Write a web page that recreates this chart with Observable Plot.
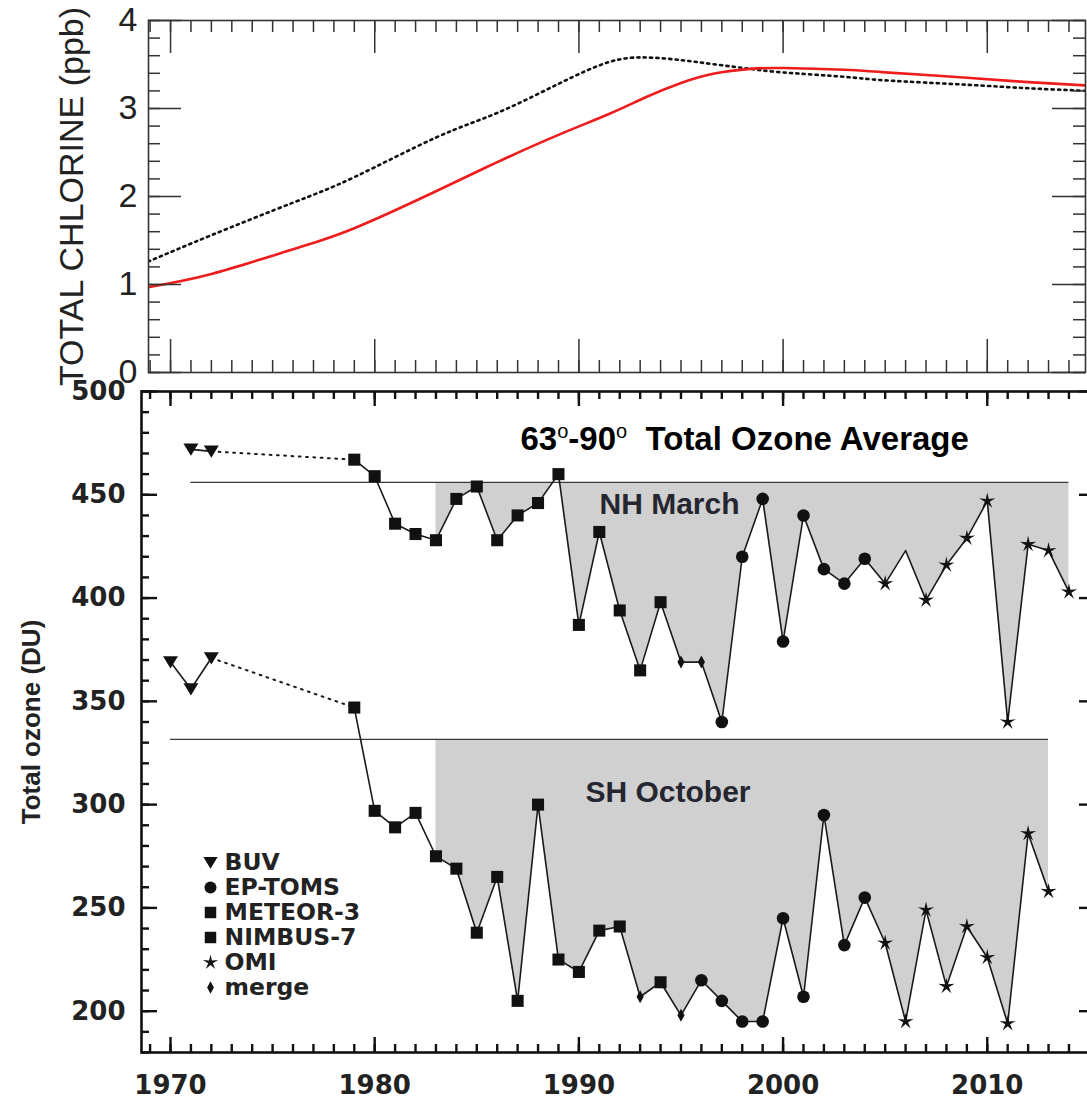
<!DOCTYPE html>
<html><head><meta charset="utf-8">
<script src="https://cdn.jsdelivr.net/npm/d3@7"></script>
<script src="https://cdn.jsdelivr.net/npm/@observablehq/plot@0.6"></script>
<style>
html,body{margin:0;padding:0;background:#fff;overflow:hidden;}
#wrap{width:1087px;height:1099px;overflow:hidden;position:relative;}
#wrap svg{display:block;max-width:none !important;}
</style></head><body><div id="wrap"></div>
<script>
// ---------- Top panel: total chlorine (ppb) ----------
const chlorineYears = [1968.9, 1972, 1976, 1979, 1983, 1986, 1989, 1991.5, 1993.3, 1995, 1996.7, 1998.4, 2000, 2003, 2005, 2009, 2012, 2015];
const chlorineRed   = [0.97, 1.12, 1.40, 1.64, 2.06, 2.39, 2.70, 2.94, 3.13, 3.29, 3.40, 3.45, 3.46, 3.44, 3.41, 3.35, 3.30, 3.26];
const chlorineBlack = [1.26, 1.56, 1.93, 2.22, 2.67, 2.95, 3.28, 3.53, 3.58, 3.55, 3.50, 3.45, 3.41, 3.36, 3.32, 3.27, 3.23, 3.20];
const chlorineTicks = [0, 1, 2, 3, 4];

// ---------- Bottom panel: 63-90 total ozone (DU) ----------
const nhYears = [1971,1972,1979,1980,1981,1982,1983,1984,1985,1986,1987,1988,1989,1990,1991,1992,1993,1994,1995,1996,1997,1998,1999,2000,2001,2002,2003,2004,2005,2006,2007,2008,2009,2010,2011,2012,2013,2014];
const nhOzone = [472,471,467,459,436,431,428,448,454,428,440,446,460,387,432,394,365,398,369,369,340,420,448,379,440,414,407,419,407,423,399,416,429,447,340,426,423,403];
const nhInstrument = ["BUV","BUV",
  "NIMBUS-7","NIMBUS-7","NIMBUS-7","NIMBUS-7","NIMBUS-7","NIMBUS-7","NIMBUS-7","NIMBUS-7","NIMBUS-7","NIMBUS-7","NIMBUS-7","NIMBUS-7","NIMBUS-7","NIMBUS-7",
  "METEOR-3","METEOR-3","merge","merge",
  "EP-TOMS","EP-TOMS","EP-TOMS","EP-TOMS","EP-TOMS","EP-TOMS","EP-TOMS","EP-TOMS",
  "OMI","none","OMI","OMI","OMI","OMI","OMI","OMI","OMI","OMI"];
const nhRef = 456;

const shYears = [1970,1971,1972,1979,1980,1981,1982,1983,1984,1985,1986,1987,1988,1989,1990,1991,1992,1993,1994,1995,1996,1997,1998,1999,2000,2001,2002,2003,2004,2005,2006,2007,2008,2009,2010,2011,2012,2013];
const shOzone = [369,356,371,347,297,289,296,275,269,238,265,205,300,225,219,239,241,207,214,198,215,205,195,195,245,207,295,232,255,233,195,249,212,241,226,194,286,258];
const shInstrument = ["BUV","BUV","BUV",
  "NIMBUS-7","NIMBUS-7","NIMBUS-7","NIMBUS-7","NIMBUS-7","NIMBUS-7","NIMBUS-7","NIMBUS-7","NIMBUS-7","NIMBUS-7","NIMBUS-7","NIMBUS-7","NIMBUS-7","NIMBUS-7",
  "merge","METEOR-3","merge",
  "EP-TOMS","EP-TOMS","EP-TOMS","EP-TOMS","EP-TOMS","EP-TOMS","EP-TOMS","EP-TOMS","EP-TOMS",
  "OMI","OMI","OMI","OMI","OMI","OMI","OMI","OMI","OMI"];
const shRef = 331.6;

const ozoneTicks = [200, 250, 300, 350, 400, 450, 500];
const yearTicks = [1970, 1980, 1990, 2000, 2010];
const legendLabels = ["BUV", "EP-TOMS", "METEOR-3", "NIMBUS-7", "OMI", "merge"];
const titleText = "63o-90o Total Ozone Average";
const nhLabel = "NH March";
const shLabel = "SH October";
const ozoneAxisLabel = "Total ozone (DU)";
const chlorineAxisLabel = "TOTAL CHLORINE (ppb)";

// ---------- symbols ----------
const symTri = {draw(ctx, size) { const r = Math.sqrt(size / Math.PI);
  ctx.moveTo(-1.1 * r, -0.85 * r); ctx.lineTo(1.1 * r, -0.85 * r); ctx.lineTo(0, 0.95 * r); ctx.closePath(); }};
const symDiamond = {draw(ctx, size) { const r = Math.sqrt(size / Math.PI);
  ctx.moveTo(0, -r); ctx.lineTo(0.55 * r, 0); ctx.lineTo(0, r); ctx.lineTo(-0.55 * r, 0); ctx.closePath(); }};
const symStar = {draw(ctx, size) { const R = Math.sqrt(size / Math.PI), ri = 0.3 * R;
  for (let i = 0; i < 10; i++) { const a = -Math.PI / 2 + i * Math.PI / 5, rr = i % 2 ? ri : R;
    const px = rr * Math.cos(a), py = rr * Math.sin(a); if (i) ctx.lineTo(px, py); else ctx.moveTo(px, py); }
  ctx.closePath(); }};
const symbolFor = {"BUV": symTri, "EP-TOMS": d3.symbolCircle, "METEOR-3": d3.symbolSquare, "NIMBUS-7": d3.symbolSquare, "OMI": symStar, "merge": symDiamond};
const rFor = {"BUV": 6.8, "EP-TOMS": 6.3, "METEOR-3": 6.8, "NIMBUS-7": 6.8, "OMI": 8.5, "merge": 6.5};

const SANS = "'Liberation Sans', Arial, Helvetica, sans-serif";
const WIDE = "'DejaVu Sans', Verdana, sans-serif";

// ---------- top chart ----------
const chl = chlorineYears.map((year, i) => ({year, red: chlorineRed[i], black: chlorineBlack[i]}));
const T = {w: 1087, h: 385, l: 148, r: 2, t: 20, b: 13};
const tFW = T.w - T.l - T.r, tFH = T.h - T.t - T.b;
const tCol = "#333";
const topChart = Plot.plot({
  width: T.w, height: T.h, marginLeft: T.l, marginRight: T.r, marginTop: T.t, marginBottom: T.b,
  style: {fontFamily: SANS, background: "white", overflow: "visible"},
  x: {domain: [1968.92, 2014.81], axis: null},
  y: {domain: [0, 4], axis: null},
  marks: [
    Plot.line(chl, {x: "year", y: "black", curve: "natural", stroke: "#111", strokeWidth: 2.6, strokeDasharray: "2.2,4.2", clip: true}),
    Plot.line(chl, {x: "year", y: "red", curve: "natural", stroke: "#ee1c1c", strokeWidth: 2.6, clip: true}),
    Plot.tickX(d3.range(1969, 2015), {x: d => d, insetTop: tFH - 12, stroke: tCol, strokeWidth: 1.5}),
    Plot.tickX(d3.range(1969, 2015), {x: d => d, insetBottom: tFH - 12, stroke: tCol, strokeWidth: 1.5}),
    Plot.tickX(yearTicks, {x: d => d, insetTop: tFH - 33, stroke: tCol, strokeWidth: 1.5}),
    Plot.tickX(yearTicks, {x: d => d, insetBottom: tFH - 33, stroke: tCol, strokeWidth: 1.5}),
    Plot.tickY(d3.range(0, 4.01, 0.2), {y: d => d, insetRight: tFW - 12, stroke: tCol, strokeWidth: 1.5}),
    Plot.tickY(d3.range(0, 4.01, 0.2), {y: d => d, insetLeft: tFW - 12, stroke: tCol, strokeWidth: 1.5}),
    Plot.tickY(chlorineTicks, {y: d => d, insetRight: tFW - 33, stroke: tCol, strokeWidth: 1.5}),
    Plot.tickY(chlorineTicks, {y: d => d, insetLeft: tFW - 33, stroke: tCol, strokeWidth: 1.5}),
    Plot.frame({stroke: tCol, strokeWidth: 1.6}),
    Plot.axisY(chlorineTicks, {anchor: "left", tickSize: 0, tickPadding: 11, tickFormat: d => String(d), fontSize: 34, fontFamily: SANS, fill: "#222", label: null}),
    Plot.text([chlorineAxisLabel], {text: d => d, frameAnchor: "left", dx: -76, rotate: -90, fontSize: 34, fontFamily: SANS, fill: "#222", textAnchor: "middle"})
  ]
});

// ---------- bottom chart ----------
const nh = nhYears.map((year, i) => ({year, ozone: nhOzone[i], inst: nhInstrument[i]}));
const sh = shYears.map((year, i) => ({year, ozone: shOzone[i], inst: shInstrument[i]}));
const B = {w: 1096, h: 714, l: 141, r: 1, t: 6, b: 47};
const bFW = B.w - B.l - B.r, bFH = B.h - B.t - B.b;
const lineCol = "#1a1a1a";

function seriesMarks(rows, ref) {
  const first = rows[0].year, last = rows[rows.length - 1].year;
  const marks = [
    Plot.areaY(rows.filter(d => d.year >= 1983), {x: "year", y1: () => ref, y2: "ozone", fill: "#d0d0d0"}),
    Plot.ruleY([ref], {x1: () => first, x2: () => last, stroke: "#3a3a3a", strokeWidth: 1.3}),
    Plot.line(rows.filter(d => d.year <= 1972), {x: "year", y: "ozone", stroke: lineCol, strokeWidth: 1.6}),
    Plot.line(rows.filter(d => d.year === 1972 || d.year === 1979), {x: "year", y: "ozone", stroke: lineCol, strokeWidth: 2, strokeDasharray: "1.8,5.5"}),
    Plot.line(rows.filter(d => d.year >= 1979), {x: "year", y: "ozone", stroke: lineCol, strokeWidth: 1.6})
  ];
  for (const lab of legendLabels) {
    marks.push(Plot.dot(rows.filter(d => d.inst === lab), {x: "year", y: "ozone", symbol: symbolFor[lab], r: rFor[lab], fill: "#111"}));
  }
  return marks;
}

const legendMarks = legendLabels.flatMap((lab, i) => [
  Plot.dot([lab], {frameAnchor: "bottom-left", dx: 69, dy: -190 + 25 * i, symbol: symbolFor[lab], r: rFor[lab] * 0.95, fill: "#111"}),
  Plot.text([lab], {text: d => d, frameAnchor: "bottom-left", dx: 83, dy: -190 + 25 * i, textAnchor: "start", lineAnchor: "middle", fontSize: 23.5, fontWeight: "bold", fontFamily: WIDE, fill: "#222"})
]);

const bottomChart = Plot.plot({
  width: B.w, height: B.h, marginLeft: B.l, marginRight: B.r, marginTop: B.t, marginBottom: B.b,
  style: {fontFamily: WIDE, background: "white", overflow: "visible"},
  x: {domain: [1968.58, 2015.3], axis: null},
  y: {domain: [180, 500], axis: null},
  marks: [
    ...seriesMarks(nh, nhRef),
    ...seriesMarks(sh, shRef),
    Plot.tickX(d3.range(1969, 2016), {x: d => d, insetTop: bFH - 8, stroke: "#111", strokeWidth: 2.4}),
    Plot.tickX(d3.range(1969, 2016), {x: d => d, insetBottom: bFH - 8, stroke: "#111", strokeWidth: 2.4}),
    Plot.tickX(yearTicks, {x: d => d, insetTop: bFH - 15, stroke: "#111", strokeWidth: 2.4}),
    Plot.tickX(yearTicks, {x: d => d, insetBottom: bFH - 15, stroke: "#111", strokeWidth: 2.4}),
    Plot.tickY(d3.range(180, 501, 10), {y: d => d, insetRight: bFW - 8, stroke: "#111", strokeWidth: 2.4}),
    Plot.tickY(d3.range(180, 501, 10), {y: d => d, insetLeft: bFW - 8, stroke: "#111", strokeWidth: 2.4}),
    Plot.tickY(ozoneTicks, {y: d => d, insetRight: bFW - 16, stroke: "#111", strokeWidth: 2.4}),
    Plot.tickY(ozoneTicks, {y: d => d, insetLeft: bFW - 16, stroke: "#111", strokeWidth: 2.4}),
    Plot.frame({stroke: "#111", strokeWidth: 2.6}),
    Plot.axisY(ozoneTicks, {anchor: "left", tickSize: 0, tickPadding: 16, tickFormat: d => String(d), fontSize: 26, fontWeight: "bold", fontFamily: WIDE, fill: "#222", label: null}),
    Plot.axisX(yearTicks, {anchor: "bottom", tickSize: 0, tickPadding: 23, tickFormat: d => String(d), fontSize: 26, fontWeight: "bold", fontFamily: WIDE, fill: "#222", label: null}),
    Plot.text([ozoneAxisLabel], {text: d => d, frameAnchor: "left", dx: -110, rotate: -90, fontSize: 26, fontWeight: "bold", fontFamily: SANS, fill: "#222", textAnchor: "middle"}),
    Plot.text([titleText], {text: d => d, frameAnchor: "top-left", dx: 379, dy: 48, textAnchor: "start", lineAnchor: "middle", fontSize: 33, fontWeight: "bold", fontFamily: SANS, fill: "#000"}),
    Plot.text([nhLabel], {text: d => d, frameAnchor: "top-left", dx: 458, dy: 113, textAnchor: "start", lineAnchor: "middle", fontSize: 30, fontWeight: "bold", fontFamily: SANS, fill: "#262630"}),
    Plot.text([shLabel], {text: d => d, frameAnchor: "top-left", dx: 444, dy: 401, textAnchor: "start", lineAnchor: "middle", fontSize: 30, fontWeight: "bold", fontFamily: SANS, fill: "#262630"}),
    ...legendMarks
  ]
});

(function clipAreas() {
  const NS = "http://www.w3.org/2000/svg";
  const ySc = bottomChart.scale("y");
  const areas = bottomChart.querySelectorAll('g[aria-label="area"]');
  let defs = bottomChart.querySelector("defs");
  if (!defs) { defs = document.createElementNS(NS, "defs"); bottomChart.insertBefore(defs, bottomChart.firstChild); }
  [nhRef, shRef].forEach((ref, i) => {
    if (!areas[i]) return;
    const cp = document.createElementNS(NS, "clipPath");
    cp.setAttribute("id", "refclip" + i);
    const rect = document.createElementNS(NS, "rect");
    rect.setAttribute("x", 0); rect.setAttribute("y", ySc.apply(ref));
    rect.setAttribute("width", B.w); rect.setAttribute("height", B.h);
    cp.appendChild(rect); defs.appendChild(cp);
    areas[i].setAttribute("clip-path", "url(#refclip" + i + ")");
  });
})();

(function titleSuperscripts() {
  const NS = "http://www.w3.org/2000/svg";
  bottomChart.querySelectorAll("text").forEach(t => {
    if (t.textContent !== titleText) return;
    t.textContent = "";
    const parts = [["63", 0], ["o", 1], ["-90", 0], ["o", 1], ["\u00a0\u00a0Total Ozone Average", 0]];
    let raised = false;
    for (const [s, sup] of parts) {
      const ts = document.createElementNS(NS, "tspan");
      ts.textContent = s;
      if (sup) { ts.setAttribute("font-size", "20"); ts.setAttribute("font-weight", "normal"); ts.setAttribute("dy", "-12"); raised = true; }
      else if (raised) { ts.setAttribute("dy", "12"); raised = false; }
      t.appendChild(ts);
    }
  });
})();

const wrap = document.getElementById("wrap");
wrap.appendChild(topChart);
wrap.appendChild(bottomChart);
</script></body></html>
